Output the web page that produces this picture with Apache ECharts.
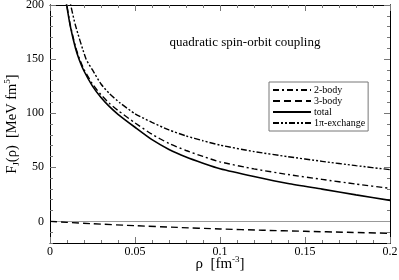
<!DOCTYPE html>
<html><head><meta charset="utf-8">
<script src="https://cdn.jsdelivr.net/npm/echarts@6/dist/echarts.min.js"></script>
<style>html,body{margin:0;padding:0;background:#fff}#c{width:399px;height:280px}</style>
</head><body><div id="c"></div>
<script>
// Data (rho in fm^-3, F_J in MeV fm^5)
const twoBody = [[0.009,211],[0.0098,201],[0.012,181],[0.015,161.5],[0.0173,150.5],[0.02,140.5],[0.025,127],[0.03,117],[0.035,109],[0.04,102.5],[0.05,91],[0.06,80.5],[0.07,72],[0.08,65.5],[0.09,60],[0.1,55],[0.12,48.5],[0.14,43.3],[0.16,38.8],[0.18,34.5],[0.2,30.5]];
const threeBody = [[0,0],[0.01,-0.9],[0.025,-2.2],[0.05,-4],[0.075,-5.6],[0.1,-7],[0.125,-8.2],[0.15,-9.2],[0.175,-10.1],[0.2,-11]];
const total = [[0.009,210],[0.0098,200],[0.012,180],[0.015,160],[0.0173,149],[0.02,139],[0.025,125],[0.03,114.5],[0.035,106],[0.04,99],[0.05,87],[0.06,75.5],[0.07,66.5],[0.08,59.5],[0.09,53.8],[0.1,48.7],[0.12,41.5],[0.14,35],[0.16,29.8],[0.18,24.5],[0.2,19.4]];
const onePi = [[0.011,212],[0.0122,200],[0.015,181],[0.0212,150],[0.025,140],[0.03,127],[0.035,118],[0.0412,109.5],[0.05,99.5],[0.06,91.5],[0.07,84.5],[0.08,79],[0.09,74.5],[0.1,70.5],[0.12,64.5],[0.14,59.8],[0.16,55.5],[0.18,51.5],[0.2,47.8]];
const seriesNames = ['2-body','3-body','total','1\u03c0-exchange'];
const yMajor = [0,50,100,150,200];
const titleText = 'quadratic spin-orbit coupling';

const FF = 'Liberation Serif';
const tickColor = '#777';
const chart = echarts.init(document.getElementById('c'), null, {renderer:'canvas'});

function xAx(pos, labels){
  return {type:'value', min:0, max:0.2, interval:0.05, position:pos,
    axisLine:{show:true, onZero:false, lineStyle:{color:'#000', width:1}},
    axisTick:{show:true, inside:true, length:6, lineStyle:{color:tickColor}},
    minorTick:{show:true, splitNumber:5, length:3, lineStyle:{color:tickColor}},
    splitLine:{show:false}, minorSplitLine:{show:false},
    axisLabel:{show:labels, fontFamily:FF, fontSize:12, color:'#000', margin:3},
    name: labels ? '{n|\u03c1  [fm}{sup|-3}{n|]}' : '',
    nameLocation:'middle', nameGap:12, nameMoveOverlap:false,
    nameTextStyle:{fontFamily:FF, color:'#000', rich:{
      n:{fontFamily:FF, fontSize:15, color:'#000', lineHeight:18, verticalAlign:'middle'},
      sup:{fontFamily:FF, fontSize:9, color:'#000', verticalAlign:'top'}}}
  };
}
function yMinor(pos){
  return {type:'value', min:-20, max:200, interval:10, position:pos,
    axisLine:{show:true, onZero:false, lineStyle:{color:'#000', width:1}},
    axisTick:{show:true, inside:true, length:3, lineStyle:{color:tickColor}},
    axisLabel:{show:false}, splitLine:{show:false}};
}
function yMajorAx(pos, labels){
  return {type:'value', min:-20, max:200, interval:10, position:pos,
    axisLine:{show:true, onZero:false, lineStyle:{color:'#000', width:1}},
    axisTick:{show:true, inside:true, length:6, customValues:yMajor, lineStyle:{color:tickColor}},
    axisLabel:{show:labels, customValues:yMajor, fontFamily:FF, fontSize:12, color:'#000', margin:6},
    splitLine:{show:false},
    name: labels ? '{n|F}{sub|J}{n|(\u03c1)  [MeV fm}{sup|5}{n|]}' : '',
    nameLocation:'middle', nameGap:29, nameRotate:90, nameMoveOverlap:false,
    nameTextStyle:{fontFamily:FF, color:'#000', rich:{
      n:{fontFamily:FF, fontSize:14.5, color:'#000', lineHeight:18, verticalAlign:'middle'},
      sub:{fontFamily:FF, fontSize:9, color:'#000', verticalAlign:'bottom'},
      sup:{fontFamily:FF, fontSize:9, color:'#000', verticalAlign:'top'}}}
  };
}

const styles = [
  {type:[6,3,2,3], width:1.4},
  {type:[7,4], width:1.4},
  {type:'solid', width:1.6},
  {type:[6,2,2,2,2,2], width:1.4}
];
const datas = [twoBody, threeBody, total, onePi];

const series = datas.map((d,i)=>({
  name: seriesNames[i], type:'line', data:d, xAxisIndex:0, yAxisIndex:1,
  symbol:'none', smooth:0.2, clip:true, silent:true,
  lineStyle:Object.assign({color:'#000'}, styles[i]),
  itemStyle:{color:'#000'},
  z: 3
}));
series[1].markLine = {silent:true, symbol:['none','none'], label:{show:false},
  lineStyle:{color:'#999', type:'solid', width:1}, data:[{yAxis:0}], z:1};

chart.setOption({
  animation:false,
  backgroundColor:'#fff',
  grid:{left:50, right:9, top:5, bottom:37, outerBoundsMode:'none', containLabel:false},
  xAxis:[xAx('bottom', true), xAx('top', false)],
  yAxis:[yMinor('left'), yMajorAx('left', true), yMinor('right'), yMajorAx('right', false)],
  legend:{
    left:269, top:82, orient:'vertical', itemWidth:38, itemHeight:8, itemGap:1,
    padding:[3,3,3,3], borderColor:'#777', borderWidth:1, backgroundColor:'#fff',
    itemStyle:{opacity:0},
    textStyle:{fontFamily:FF, fontSize:10, color:'#000', padding:[0,0,0,-2]},
    data:seriesNames
  },
  graphic:[{type:'text', x:245, y:36, style:{text:titleText, font:'13px "Liberation Serif"', fill:'#000', textAlign:'center'}}],
  series: series
});
</script></body></html>
